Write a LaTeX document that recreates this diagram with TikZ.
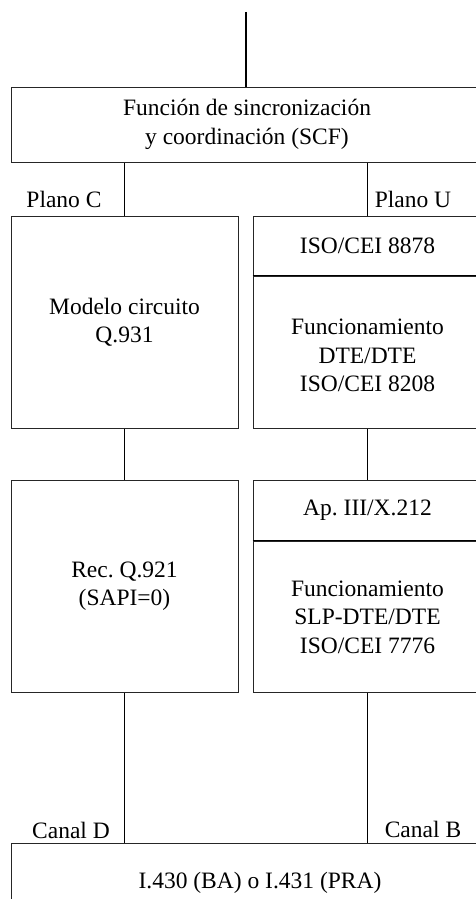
\documentclass[tikz,border=0pt]{standalone}
\usepackage{fontspec}
\setmainfont{Liberation Serif}
\frenchspacing
\begin{document}
\begin{tikzpicture}[x=1pt,y=-1pt,
  box/.style={draw=black!85, line width=1pt, rectangle, inner sep=0pt, align=center,
              font=\fontsize{23.5}{28.5}\selectfont},
  conn/.style={draw=black, line width=1.8pt},
  lbl/.style={inner sep=0pt, font=\fontsize{23.5}{28.5}\selectfont}]
\useasboundingbox (0,0) rectangle (476,899);
\clip (0,0) rectangle (476,899);
\node[box, minimum width=472pt, minimum height=75pt] (scf) at (247,124.5)
  {Función de sincronización\\y coordinación (SCF)};
\node[box, minimum width=227pt, minimum height=212pt] (q931) at (124.5,322)
  {Modelo circuito\\Q.931};
\node[box, minimum width=229pt, minimum height=60pt] (iso8878) at (367.5,246)
  {ISO/CEI 8878};
\node[box, minimum width=229pt, minimum height=152pt] (dte) at (367.5,352) {};
\node[align=center, font=\fontsize{23.5}{28.5}\selectfont] at (367.5,355.5)
  {Funcionamiento\\DTE/DTE\\ISO/CEI 8208};
\node[box, minimum width=227pt, minimum height=212pt] (q921) at (124.5,586)
  {Rec.\ Q.921\\(SAPI=0)};
\node[box, minimum width=229pt, minimum height=61pt] (x212) at (367.5,510.5)
  {Ap.\ III/X.212};
\node[box, minimum width=229pt, minimum height=151pt] (slp) at (367.5,616.5) {};
\node[align=center, font=\fontsize{23.5}{28.5}\selectfont] at (367.5,617)
  {Funcionamiento\\SLP-DTE/DTE\\ISO/CEI 7776};
\node[box, minimum width=498pt, minimum height=87pt] (phy) at (260,886.5) {};
\node[font=\fontsize{23.5}{28.5}\selectfont] at (260,883) {I.430 (BA) o I.431 (PRA)};
\coordinate (top) at (246,12);
\draw[conn] (top) -- (top |- scf.north);
\draw[conn] (scf.south -| q931.north) -- (q931.north);
\draw[conn] (scf.south -| iso8878.north) -- (iso8878.north);
\draw[conn] (dte.north west) -- (dte.north east);
\draw[conn] (slp.north west) -- (slp.north east);
\draw[conn] (q931.south) -- (q921.north);
\draw[conn] (dte.south) -- (x212.north);
\draw[conn] (q921.south) -- (q921.south |- phy.north);
\draw[conn] (slp.south) -- (slp.south |- phy.north);
\node[lbl] (pc) at (64,199) {Plano C};
\node[lbl] (pu) at (413,199) {Plano U};
\node[lbl] (cd) at (71,830) {Canal D};
\node[lbl] (cb) at (423,829) {Canal B};
\end{tikzpicture}
\end{document}
